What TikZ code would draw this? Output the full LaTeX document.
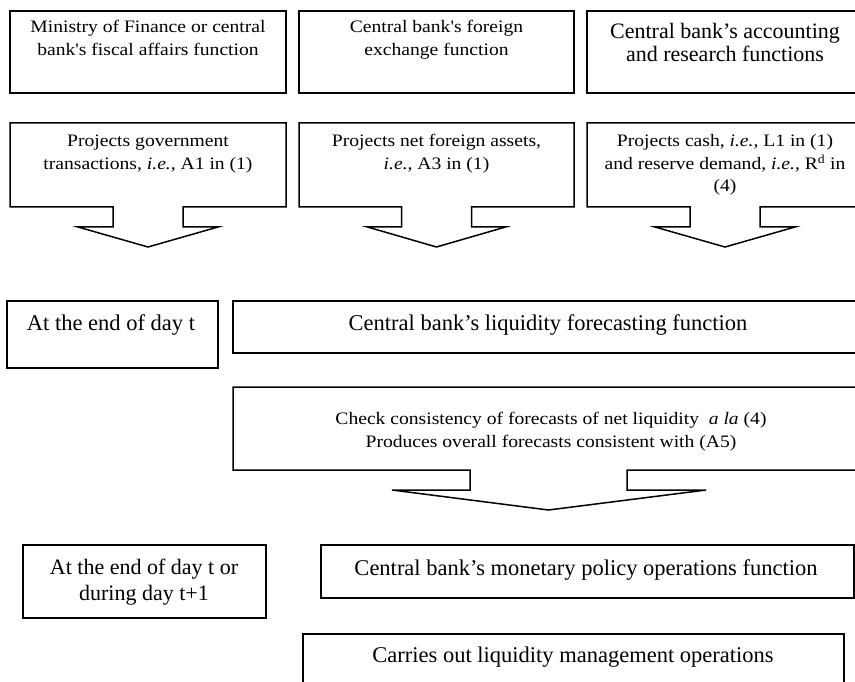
\documentclass[tikz,border=0pt]{standalone}
\usepackage{fontspec}
\setmainfont{Liberation Serif}
\newfontfamily\widefont[FakeStretch=1.12]{Liberation Serif}
\newcommand{\mlines}[1]{\begin{tabular}[t]{@{}c@{}}#1\end{tabular}}
\begin{document}
\begin{tikzpicture}[x=1pt,y=-1pt,line join=miter,
  box/.style={draw,line width=1.6pt,inner sep=0pt},
  callout/.style={draw,line width=1.5pt},
  small/.style={font=\widefont\fontsize{17.5}{22.5}\selectfont,inner sep=0pt,anchor=base},
  big/.style={font=\fontsize{22.5}{22}\selectfont,inner sep=0pt,anchor=base}]
\useasboundingbox (0,0) rectangle (855,682);
\clip (0,0) rectangle (855,682);

% top row boxes
\node[box,minimum width=276pt,minimum height=82pt] (b1) at (148,52) {};
\node[box,minimum width=275pt,minimum height=82pt] (b2) at (436.5,52) {};
\node[box,minimum width=276pt,minimum height=82pt] (b3) at (725,52) {};
\node[small] (t1) at (148,33) {\mlines{Ministry of Finance or central\\bank's fiscal affairs function}};
\node[small] (t2) at (436.5,33) {\mlines{Central bank's foreign\\exchange function}};
\node[big,font=\fontsize{22}{22}\selectfont] (t3) at (725,39) {\mlines{Central bank's accounting\\and research functions}};

% callouts
\draw[callout] (113,207) -- (10,207) -- (10,123) -- (286,123) -- (286,207) -- (183,207) -- (183,227) -- (218,227) -- (148,247) -- (78,227) -- (113,227) -- cycle;
\draw[callout] (401.5,207) -- (299,207) -- (299,123) -- (574,123) -- (574,207) -- (471.5,207) -- (471.5,227) -- (505.5,227) -- (436.5,247) -- (367.5,227) -- (401.5,227) -- cycle;
\draw[callout] (690,207) -- (587,207) -- (587,123) -- (863,123) -- (863,207) -- (760,207) -- (760,227) -- (795,227) -- (725,247) -- (655,227) -- (690,227) -- cycle;
\node[small] (c1) at (148,147) {\mlines{Projects government\\transactions, \textit{i.e.}, A1 in (1)}};
\node[small] (c2) at (436.5,147) {\mlines{Projects net foreign assets,\\\textit{i.e.}, A3 in (1)}};
\node[small] (c3) at (725,147) {\mlines{Projects cash, \textit{i.e.}, L1 in (1)\\and reserve demand, \textit{i.e.}, R\textsuperscript{d} in\\(4)}};

% middle row
\node[box,minimum width=211pt,minimum height=67pt] (d1) at (112.5,334.5) {};
\node[big] (d1t) at (111,330) {At the end of day t};
\node[box,minimum width=630pt,minimum height=52pt] (lf) at (548,327) {};
\node[big] (lft) at (548,330) {Central bank's liquidity forecasting function};

\draw[callout] (470,470) -- (233,470) -- (233,387) -- (863,387) -- (863,470) -- (627,470) -- (627,490) -- (706,490) -- (548.5,510) -- (392,490) -- (470,490) -- cycle;
\node[small,font=\widefont\fontsize{17.5}{23}\selectfont] (ck) at (551,424) {\mlines{Check consistency of forecasts of net liquidity\ \ \textit{a la} (4)\\Produces overall forecasts consistent with (A5)}};

% bottom rows
\node[box,minimum width=243pt,minimum height=73pt] (d2) at (144.5,581.5) {};
\node[big,font=\fontsize{22}{26}\selectfont] (d2t) at (144,574) {\mlines{At the end of day t or\\during day t+1}};
\node[box,minimum width=533pt,minimum height=53pt] (mp) at (587.5,571.5) {};
\node[big] (mpt) at (586,575) {Central bank's monetary policy operations function};
\node[box,minimum width=541pt,minimum height=70pt] (lm) at (573.5,669) {};
\node[big] (lmt) at (573,662) {Carries out liquidity management operations};
\end{tikzpicture}
\end{document}
